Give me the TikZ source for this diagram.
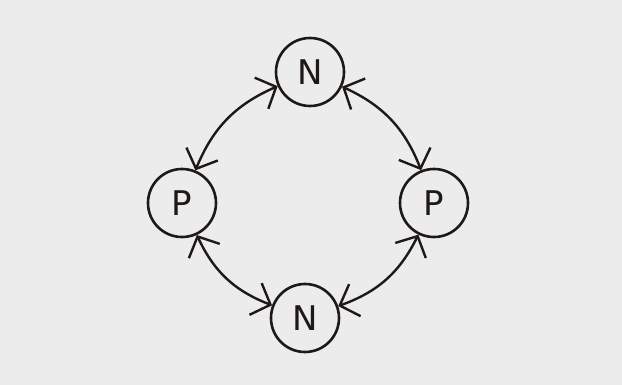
\documentclass[tikz,border=0pt]{standalone}
\usepackage{fontspec}
\setmainfont{DejaVu Sans}
\usetikzlibrary{arrows.meta}
\definecolor{paper}{RGB}{236,236,236}
\definecolor{ink}{RGB}{30,25,22}
\begin{document}
\begin{tikzpicture}[x=1pt,y=-1pt,
  blob/.style={circle,draw=ink,line width=2.6pt,minimum size=68pt,inner sep=0pt,
    font=\fontsize{34}{36}\selectfont,text=ink},
  link/.style={draw=ink,line width=2.4pt,
    {Straight Barb[length=16pt,width=34pt,line width=2.4pt]}-{Straight Barb[length=16pt,width=34pt,line width=2.4pt]}}]
\fill[paper] (0,0) rectangle (622,385);
\useasboundingbox (0,0) rectangle (622,385);
\node[blob] (nt) at (310,72) {N};
\node[blob] (pl) at (182,203) {P};
\node[blob] (pr) at (434,203) {P};
\node[blob] (nb) at (305,318) {N};
\draw[link] (nt) to[bend right=22] (pl);
\draw[link] (nt) to[bend left=22] (pr);
\draw[link] (pl) to[bend right=22] (nb);
\draw[link] (nb) to[bend right=22] (pr);
\end{tikzpicture}
\end{document}
